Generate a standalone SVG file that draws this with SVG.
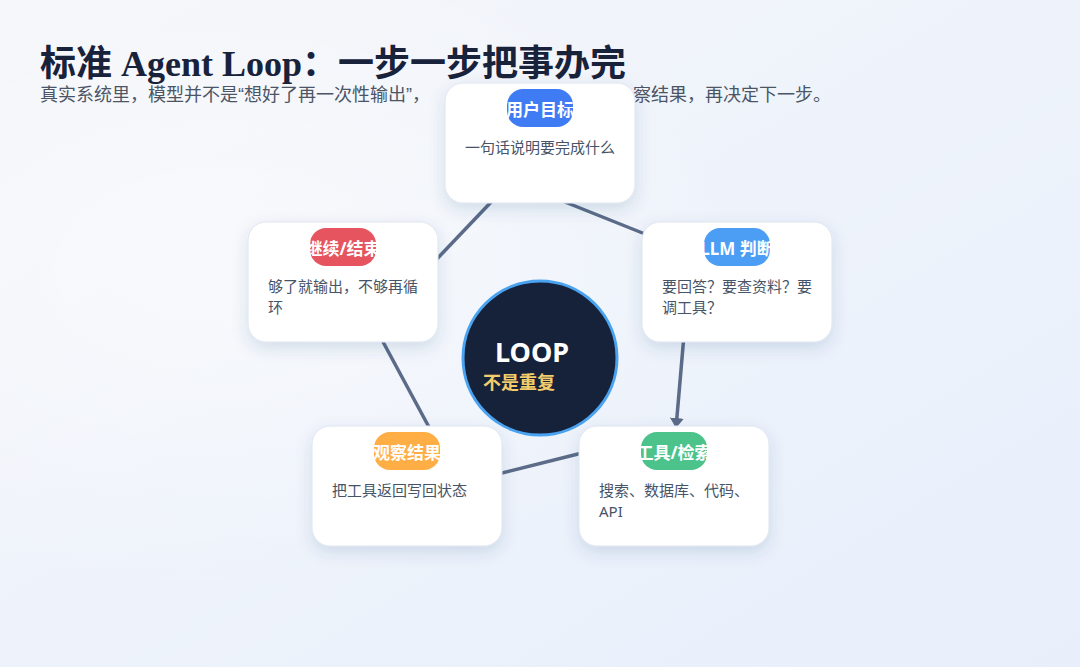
<svg xmlns="http://www.w3.org/2000/svg" width="1080" height="667" viewBox="0 0 1080 667">
  <defs>
    <linearGradient id="bg" x1="0" y1="0" x2="1" y2="1">
      <stop offset="0" stop-color="#f5f6f9"/>
      <stop offset="0.5" stop-color="#eef3fb"/>
      <stop offset="1" stop-color="#e8effb"/>
    </linearGradient>
    <radialGradient id="glow" cx="0.2" cy="0.4" r="0.5">
      <stop offset="0" stop-color="#ffffff" stop-opacity="0.5"/>
      <stop offset="1" stop-color="#ffffff" stop-opacity="0"/>
    </radialGradient>
    <filter id="shadow" x="-20%" y="-20%" width="140%" height="150%">
      <feDropShadow dx="0" dy="6" stdDeviation="8" flood-color="#1e3a6e" flood-opacity="0.14"/>
    </filter>
    <marker id="arrow" markerUnits="userSpaceOnUse" markerWidth="10" markerHeight="14" viewBox="0 0 10 14" refX="10" refY="7" orient="auto">
      <path d="M0,0 L10,7 L0,14 z" fill="#5b6b88"/>
    </marker>
    <style>
      .card { fill: #ffffff; stroke: #dde5f0; stroke-width: 1; filter: url(#shadow); }
      .pilltxt { font-family: "Noto Sans", "Noto Sans CJK SC", sans-serif; font-size: 17px; font-weight: 700; fill: #ffffff; text-anchor: middle; }
      .desc { font-family: "Noto Sans", "Noto Sans CJK SC", sans-serif; font-size: 15px; fill: #475467; }
      .sub { font-family: "Liberation Sans", "Noto Sans CJK SC", sans-serif; font-size: 18px; fill: #4b5565; }
      .conn { stroke: #5b6b88; stroke-width: 3.5; fill: none; }
    </style>
  </defs>

  <rect x="0" y="0" width="1080" height="667" fill="url(#bg)"/>
  <rect x="0" y="0" width="1080" height="667" fill="url(#glow)"/>

  <g id="header">
    <text x="40" y="76" font-family="'Liberation Serif', 'Noto Sans CJK SC', serif" font-size="36" font-weight="700" fill="#18223a">标准 Agent Loop：一步一步把事办完</text>
    <text class="sub" x="40" y="101">真实系统里，模型并不是“想好了再一次性输出”，</text>
    <text class="sub" x="633" y="101">察结果，再决定下一步。</text>
  </g>

  <g id="connectors">
    <line class="conn" x1="560" y1="200" x2="650" y2="236"/>
    <line class="conn" x1="494" y1="199" x2="434" y2="262"/>
    <line class="conn" x1="382" y1="340" x2="430" y2="429"/>
    <line class="conn" x1="498" y1="474" x2="582" y2="453"/>
    <line class="conn" x1="684" y1="335" x2="676" y2="428" marker-end="url(#arrow)"/>
  </g>

  <g id="node-goal">
    <rect class="card" x="445" y="83" width="190" height="120" rx="18"/>
    <svg x="507" y="89" width="66" height="38">
      <rect width="66" height="38" rx="16" fill="#3f7cf4"/>
      <text class="pilltxt" x="33" y="27">用户目标</text>
    </svg>
    <text class="desc" x="465" y="153">一句话说明要完成什么</text>
  </g>

  <g id="node-llm">
    <rect class="card" x="642" y="222" width="190" height="120" rx="18"/>
    <svg x="704" y="228" width="66" height="38">
      <rect width="66" height="38" rx="16" fill="#4c9ef5"/>
      <text class="pilltxt" x="33" y="27">LLM 判断</text>
    </svg>
    <text class="desc" x="662" y="292">要回答？要查资料？要</text>
    <text class="desc" x="662" y="313">调工具？</text>
  </g>

  <g id="node-tool">
    <rect class="card" x="579" y="426" width="190" height="120" rx="18"/>
    <svg x="641" y="432" width="66" height="38">
      <rect width="66" height="38" rx="16" fill="#4cc38b"/>
      <text class="pilltxt" x="33" y="27">工具/检索</text>
    </svg>
    <text class="desc" x="599" y="496">搜索、数据库、代码、</text>
    <text class="desc" x="599" y="517">API</text>
  </g>

  <g id="node-observe">
    <rect class="card" x="312" y="426" width="190" height="120" rx="18"/>
    <svg x="374" y="432" width="66" height="38">
      <rect width="66" height="38" rx="16" fill="#ffad45"/>
      <text class="pilltxt" x="33" y="27">观察结果</text>
    </svg>
    <text class="desc" x="332" y="496">把工具返回写回状态</text>
  </g>

  <g id="node-continue">
    <rect class="card" x="248" y="222" width="190" height="120" rx="18"/>
    <svg x="310" y="228" width="66" height="38">
      <rect width="66" height="38" rx="16" fill="#e5545f"/>
      <text class="pilltxt" x="33" y="27">继续/结束</text>
    </svg>
    <text class="desc" x="268" y="292">够了就输出，不够再循</text>
    <text class="desc" x="268" y="313">环</text>
  </g>

  <g id="node-loop">
    <circle cx="540" cy="358" r="77" fill="#16213a" stroke="#4aa3f0" stroke-width="3"/>
    <text x="495" y="362" font-family="'Noto Sans', 'Noto Sans CJK SC', sans-serif" font-size="27" font-weight="700" fill="#ffffff">LOOP</text>
    <text x="483" y="389" font-family="'Noto Sans', 'Noto Sans CJK SC', sans-serif" font-size="18" font-weight="700" fill="#f3cd6a">不是重复</text>
  </g>
</svg>
